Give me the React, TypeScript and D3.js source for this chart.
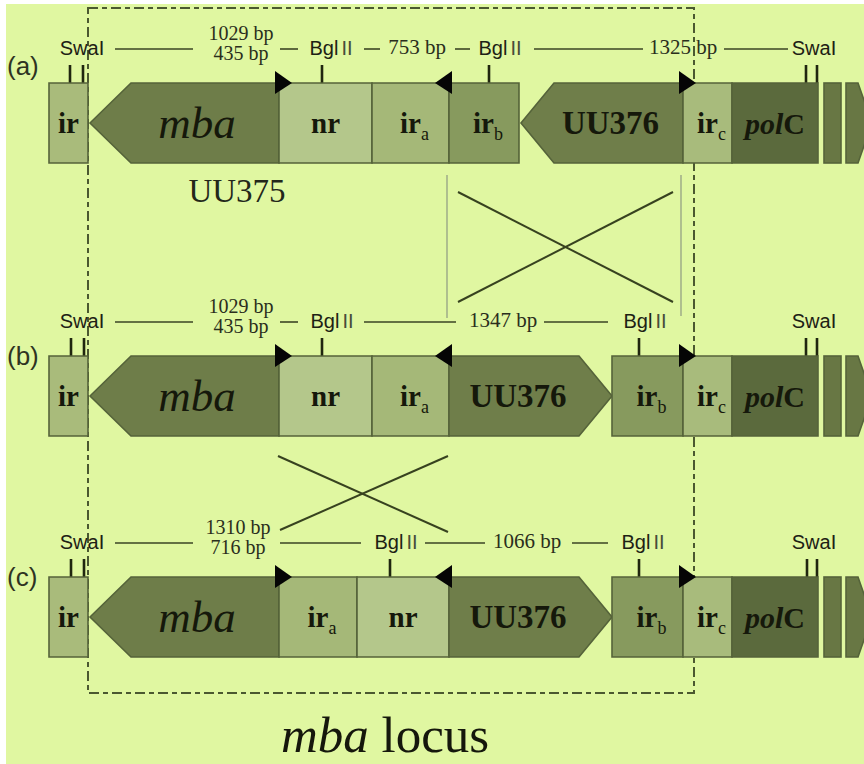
import React from "react";
import * as d3 from "d3";

// ---- map data (positions in map units along the locus) ----
const rowLabels = ["(a)", "(b)", "(c)"];

const segmentNames = [
  ["ir", "mba", "nr", "ir_a", "ir_b", "UU376", "ir_c", "polC"],
  ["ir", "mba", "nr", "ir_a", "UU376", "ir_b", "ir_c", "polC"],
  ["ir", "mba", "ir_a", "nr", "UU376", "ir_b", "ir_c", "polC"],
];
const segmentStarts = [
  [49, 90, 279, 372, 449, 521, 683, 732],
  [49, 90, 279, 372, 449, 612, 683, 732],
  [49, 90, 279, 357, 449, 612, 683, 732],
];
const segmentEnds = [
  [88, 279, 372, 449, 519, 683, 732, 818],
  [88, 279, 372, 449, 612, 683, 732, 818],
  [88, 279, 357, 449, 612, 683, 732, 818],
];
// orientation of each gene: -1 points left, 1 points right, 0 plain block
const segmentStrand = [
  [0, -1, 0, 0, 0, -1, 0, 0],
  [0, -1, 0, 0, 1, 0, 0, 0],
  [0, -1, 0, 0, 1, 0, 0, 0],
];
const arrowHead = { mba: 41, UU376: 33 };

// inverted-repeat markers (filled triangles): position and direction
const repeatPos = [
  [279, 449, 683],
  [279, 449, 683],
  [279, 449, 683],
];
const repeatDir = [
  [1, -1, 1],
  [1, -1, 1],
  [1, -1, 1],
];

// restriction sites
const swaSitesLeft = [[70, 83], [71, 84], [71, 84]];
const swaSitesRight = [[806, 817], [806, 817], [807, 817]];
const bglSites = [[322, 489], [322, 639], [390, 639]];

// fragment annotations above each row
const fragTopLabels = ["1029 bp", "1029 bp", "1310 bp"];
const fragBottomLabels = ["435 bp", "435 bp", "716 bp"];
const fragLabelX = [241, 241, 238];
const bglLabelX = [[331, 500], [332, 645], [396, 643]];
const midFragLabels = [["753 bp", "1325 bp"], ["1347 bp"], ["1066 bp"]];
const midFragX = [[417, 683], [503], [527]];
const swaRightLabel = [[814], [814], [814]];
const ruleSpans = [
  [[115, 193], [280, 298], [364, 380], [455, 470], [534, 643], [724, 788]],
  [[115, 193], [280, 298], [364, 456], [544, 608]],
  [[115, 193], [280, 361], [425, 485], [572, 608]],
];

// recombination crossings
const crossA = [[458, 192, 673, 302], [458, 302, 673, 192]];
const crossB = [[278, 456, 448, 532], [280, 530, 448, 456]];
const guideLines = [[447, 175, 318], [681, 175, 316]];

// ---- styles ----
const W = 864;
const H = 764;
const rowTop = [83, 356, 577];
const rowH = 80;
const labelDy = [-8, 9, 9];
const SERIF = "'Liberation Serif', 'Times New Roman', serif";
const SANS = "'Liberation Sans', Arial, sans-serif";
const INK = "#15180b";
const EDGE = "#55633a";

const fills: Record<string, string> = {
  ir: "#a9bb7b",
  mba: "#6e7d49",
  nr: "#b4c78b",
  ir_a: "#a5b878",
  ir_b: "#879a5e",
  UU376: "#6f7e4a",
  ir_c: "#a8bb7c",
  polC: "#5b6a3d",
  tail: "#687744",
};

const x = d3.scaleLinear().domain([0, W]).range([0, W]);

function SegmentLabel({ name, cx, cy }: { name: string; cx: number; cy: number }) {
  if (name === "mba") {
    return (
      <text x={cx} y={cy + 15} textAnchor="middle" fontFamily={SERIF} fontStyle="italic" fontSize={45} fill={INK}>
        mba
      </text>
    );
  }
  if (name === "UU376") {
    return (
      <text x={cx} y={cy + 11} textAnchor="middle" fontFamily={SERIF} fontWeight="bold" fontSize={33} fill={INK}>
        UU376
      </text>
    );
  }
  if (name === "polC") {
    return (
      <text x={cx} y={cy + 11} textAnchor="middle" fontFamily={SERIF} fontWeight="bold" fontSize={30} fill={INK}>
        <tspan fontStyle="italic">pol</tspan>
        <tspan>C</tspan>
      </text>
    );
  }
  if (name.startsWith("ir_")) {
    const sub = name.slice(3);
    return (
      <text x={cx + 4} y={cy + 10} textAnchor="middle" fontFamily={SERIF} fontWeight="bold" fontSize={29} fill={INK}>
        ir
        <tspan fontSize={18} fontWeight="normal" dy={7}>
          {sub}
        </tspan>
      </text>
    );
  }
  return (
    <text x={cx} y={cy + 10} textAnchor="middle" fontFamily={SERIF} fontWeight="bold" fontSize={29} fill={INK}>
      {name}
    </text>
  );
}

function segmentPath(x0: number, x1: number, top: number, h: number, strand: number, head: number) {
  const p = d3.path();
  const mid = top + h / 2;
  const bottom = top + h;
  if (strand === -1) {
    p.moveTo(x0, mid);
    p.lineTo(x0 + head, top);
    p.lineTo(x1, top);
    p.lineTo(x1, bottom);
    p.lineTo(x0 + head, bottom);
  } else if (strand === 1) {
    p.moveTo(x0, top);
    p.lineTo(x1 - head, top);
    p.lineTo(x1, mid);
    p.lineTo(x1 - head, bottom);
    p.lineTo(x0, bottom);
  } else {
    p.rect(x0, top, x1 - x0, h);
  }
  p.closePath();
  return p.toString();
}

function BglLabel({ cx, y }: { cx: number; y: number }) {
  return (
    <text x={cx} y={y} textAnchor="middle" fontFamily={SANS} fontSize={20} fill="#1d2114">
      Bgl
      <tspan fill="#474c3a" dx={3}>II</tspan>
    </text>
  );
}

function Row({ r }: { r: number }) {
  const top = rowTop[r];
  const cy = top + rowH / 2;
  const names = segmentNames[r];
  const tailPath = d3.path();
  tailPath.moveTo(x(846), top);
  tailPath.lineTo(x(858), top);
  tailPath.lineTo(x(872), cy);
  tailPath.lineTo(x(858), top + rowH);
  tailPath.lineTo(x(846), top + rowH);
  tailPath.closePath();
  return (
    <g>
      {/* annotation rules */}
      {ruleSpans[r].map(([a, b], i) => (
        <line key={"rl" + i} x1={x(a)} x2={x(b)} y1={top - 34} y2={top - 34} stroke="#3b4524" strokeWidth={1.6} />
      ))}
      <text x={7} y={top + labelDy[r]} fontFamily={SANS} fontSize={26} fill="#2e3322">
        {rowLabels[r]}
      </text>
      <text x={x(82)} y={top - 28} textAnchor="middle" fontFamily={SANS} fontSize={20} fill="#1d2114">
        SwaI
      </text>
      {swaRightLabel[r].map((c, i) => (
        <text key={"sr" + i} x={x(c)} y={top - 28} textAnchor="middle" fontFamily={SANS} fontSize={20} fill="#1d2114">
          SwaI
        </text>
      ))}
      {/* stacked fragment sizes (two digests) */}
      <text x={x(fragLabelX[r])} y={top - 43} textAnchor="middle" fontFamily={SERIF} fontSize={20} fill="#2a2e1c">
        {fragTopLabels[r]}
      </text>
      <text x={x(fragLabelX[r])} y={top - 23} textAnchor="middle" fontFamily={SERIF} fontSize={20} fill="#2a2e1c">
        {fragBottomLabels[r]}
      </text>
      {bglLabelX[r].map((c, i) => (
        <BglLabel key={"bl" + i} cx={x(c)} y={top - 28} />
      ))}
      {midFragLabels[r].map((t, i) => (
        <text key={"mf" + i} x={x(midFragX[r][i])} y={top - 29} textAnchor="middle" fontFamily={SERIF} fontSize={21} fill="#2a2e1c">
          {t}
        </text>
      ))}
      {/* site ticks */}
      {[...swaSitesLeft[r], ...swaSitesRight[r], ...bglSites[r]].map((s, i) => (
        <line key={"tk" + i} x1={x(s)} x2={x(s)} y1={top - 18} y2={top} stroke="#20260f" strokeWidth={2.6} />
      ))}
      {/* segments */}
      {names.map((n, i) => {
        const s = x(segmentStarts[r][i]);
        const e = x(segmentEnds[r][i]);
        const st = segmentStrand[r][i];
        const head = (arrowHead as Record<string, number>)[n] || 0;
        return (
          <path key={"sg" + i} d={segmentPath(s, e, top, rowH, st, head)} fill={fills[n]} stroke={EDGE} strokeWidth={1.6} />
        );
      })}
      <rect x={x(824)} y={top} width={x(841) - x(824)} height={rowH} fill={fills.tail} stroke={EDGE} strokeWidth={1.6} />
      <path d={tailPath.toString()} fill={fills.tail} stroke={EDGE} strokeWidth={1.6} />
      {names.map((n, i) => {
        const s = x(segmentStarts[r][i]);
        const e = x(segmentEnds[r][i]);
        const st = segmentStrand[r][i];
        const head = (arrowHead as Record<string, number>)[n] || 0;
        let cx = (s + e) / 2;
        if (st === -1) cx = (s + head + e) / 2 - 8;
        if (st === 1) cx = (s + e - head) / 2 + 4;
        return <SegmentLabel key={"lb" + i} name={n} cx={cx} cy={cy} />;
      })}
      {/* repeat markers */}
      {repeatPos[r].map((p, i) => {
        const d = repeatDir[r][i];
        const px = x(p);
        const base = d === 1 ? px - 4 : px + 3;
        const tip = base + d * 17;
        return (
          <path key={"tr" + i} d={`M${base},${top - 12}L${tip},${top}L${base},${top + 11}Z`} fill="#050505" />
        );
      })}
    </g>
  );
}

export default function App() {
  return (
    <svg width={W} height={H} style={{ position: "absolute", left: 0, top: 0, display: "block", background: "#ffffff" }}>
      <rect x={6} y={4} width={W - 6} height={H - 4} fill="#e0f7a1" />
      {/* mba locus frame */}
      <rect
        x={x(88)}
        y={8}
        width={x(694) - x(88)}
        height={693 - 8}
        fill="none"
        stroke="#4b5830"
        strokeWidth={2}
        strokeDasharray="10 4 5 4"
      />
      {guideLines.map(([gx, y1, y2], i) => (
        <line key={"gl" + i} x1={x(gx)} x2={x(gx)} y1={y1} y2={y2} stroke="#a3b08a" strokeWidth={1.6} />
      ))}
      {[...crossA, ...crossB].map(([a, b, c, d], i) => (
        <line key={"cr" + i} x1={x(a)} y1={b} x2={x(c)} y2={d} stroke="#37421f" strokeWidth={2} />
      ))}
      {rowLabels.map((_, r) => (
        <Row key={r} r={r} />
      ))}
      <text x={237} y={202} textAnchor="middle" fontFamily={SERIF} fontSize={33} fill="#23271a">
        UU375
      </text>
      <text x={385} y={752} textAnchor="middle" fontFamily={SERIF} fontSize={51} fill="#15170c">
        <tspan fontStyle="italic">mba</tspan> locus
      </text>
    </svg>
  );
}
